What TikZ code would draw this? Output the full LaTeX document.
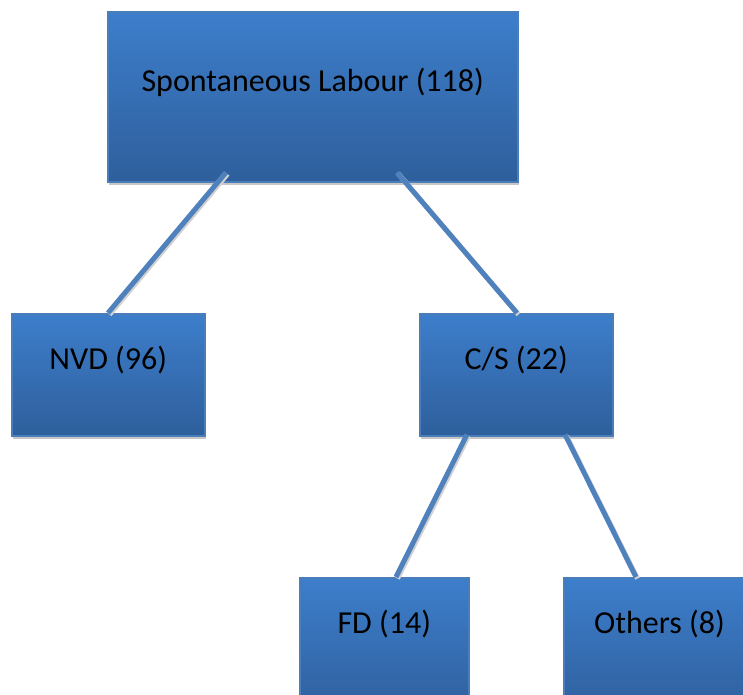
\documentclass[tikz,border=0pt]{standalone}
\usepackage{fontspec}
\setmainfont{Carlito}
\usetikzlibrary{calc,shadows}
\definecolor{boxtop}{RGB}{61,126,203}
\definecolor{boxbot}{RGB}{46,95,156}
\definecolor{boxedge}{RGB}{74,126,187}
\definecolor{linkc}{RGB}{79,129,189}
\begin{document}
\begin{tikzpicture}[x=1pt,y=-1pt,
  box/.style={rectangle, inner sep=0pt, top color=boxtop, bottom color=boxbot,
    draw=boxedge, line width=1.5pt,
    drop shadow={shadow xshift=1pt, shadow yshift=-3pt, fill=black!22, opacity=1}},
  lbl/.style={font=\fontsize{32}{38}\selectfont, text=black, inner sep=0pt},
  link/.style={draw=linkc, line width=5pt},
  linkshadow/.style={draw=black!18, line width=5pt}]
\useasboundingbox (0,0) rectangle (743,694);
% boxes
\node[box, minimum width=410pt, minimum height=170pt, anchor=north west] (top) at (107,11) {};
\node[box, minimum width=193pt, minimum height=122pt, anchor=north west] (nvd) at (11,313) {};
\node[box, minimum width=193pt, minimum height=122pt, anchor=north west] (cs) at (419,313) {};
\node[box, minimum width=169pt, minimum height=140pt, anchor=north west] (fd) at (299,577) {};
\node[box, minimum width=200pt, minimum height=140pt, anchor=north west] (oth) at (563,577) {};
% labels
\node[lbl] (ttop) at ($(top.north)+(0,71)$) {Spontaneous Labour (118)};
\node[lbl] (tnvd) at ($(nvd.north)+(0,47)$) {NVD (96)};
\node[lbl] (tcs) at ($(cs.north)+(0,47)$) {C/S (22)};
\node[lbl] (tfd) at ($(fd.north)+(0,47)$) {FD (14)};
\node[lbl] (toth) at ($(oth.north west)+(96.5,47)$) {Others (8)};
% link end points
\coordinate (a1) at ($(top.south west)+(119,-10)$);
\coordinate (a2) at ($(nvd.north west)+(97,0)$);
\coordinate (b1) at ($(top.south west)+(290,-10)$);
\coordinate (b2) at ($(cs.north west)+(98,0)$);
\coordinate (c1) at ($(cs.south west)+(48,-2)$);
\coordinate (c2) at ($(fd.north west)+(97,0)$);
\coordinate (d1) at ($(cs.south west)+(146,-2)$);
\coordinate (d2) at ($(oth.north west)+(73,0)$);
% link shadows
\foreach \p/\q in {a1/a2,b1/b2,c1/c2,d1/d2}
  \draw[linkshadow] ($(\p)+(1.5,1.5)$) -- ($(\q)+(1.5,1.5)$);
% links
\draw[link] (a1) -- (a2);
\draw[link] (b1) -- (b2);
\draw[link] (c1) -- (c2);
\draw[link] (d1) -- (d2);
\end{tikzpicture}
\end{document}
